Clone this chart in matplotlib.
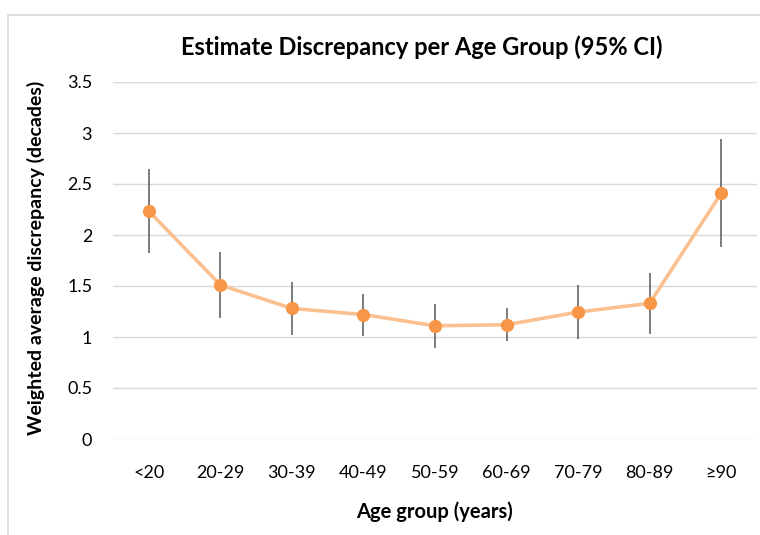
import matplotlib
matplotlib.use("Agg")
import matplotlib.pyplot as plt
from matplotlib.patches import Rectangle

categories = ["<20", "20-29", "30-39", "40-49", "50-59", "60-69", "70-79", "80-89", "≥90"]
means = [2.235, 1.51, 1.28, 1.22, 1.11, 1.12, 1.245, 1.33, 2.41]
upper = [2.65, 1.83, 1.54, 1.42, 1.32, 1.28, 1.51, 1.63, 2.94]
lower = [1.82, 1.19, 1.02, 1.01, 0.89, 0.96, 0.98, 1.03, 1.88]
yticks = [0, 0.5, 1, 1.5, 2, 2.5, 3, 3.5]
ytick_labels = ["0", "0.5", "1", "1.5", "2", "2.5", "3", "3.5"]

plt.rcParams['font.family'] = ['Lato', 'DejaVu Sans']

fig = plt.figure(figsize=(7.6, 5.35), dpi=100)
W, H = 760, 535
ax = fig.add_axes([113 / W, 1 - 439 / H, (757 - 113) / W, (439 - 82) / H])

# chart border
fig.patches.append(Rectangle((8 / W, -0.05), 1.2, 1 - 15 / H + 0.05, transform=fig.transFigure,
                             fill=False, edgecolor="#D9D9D9", linewidth=1.2))

x = list(range(len(categories)))
yerr_low = [m - l for m, l in zip(means, lower)]
yerr_up = [u - m for m, u in zip(means, upper)]

ax.errorbar(x, means, yerr=[yerr_low, yerr_up], fmt="none", ecolor="#595959",
            elinewidth=1.1, capsize=0, zorder=2)
ax.plot(x, means, color="#FAC090", linewidth=2.6, zorder=3)
ax.plot(x, means, linestyle="none", marker="o", markersize=8.5, color="#F79646",
        markeredgecolor="#F79646", zorder=4)

ax.set_xlim(-0.5, len(categories) - 0.5)
ax.set_ylim(0, 3.5)
ax.set_yticks(yticks)
ax.set_yticklabels(ytick_labels)
ax.set_xticks(x)
ax.set_xticklabels(categories)
ax.yaxis.grid(True, color="#D9D9D9", linewidth=1.0)
ax.set_axisbelow(True)
for s in ax.spines.values():
    s.set_visible(False)
ax.tick_params(axis="both", length=0, labelsize=13, colors="#000000")
ax.tick_params(axis="y", pad=15)
ax.tick_params(axis="x", pad=19)

fig.text(422 / W, 1 - 47 / H, "Estimate Discrepancy per Age Group (95% CI)", ha="center", va="center",
         fontsize=17, fontweight="bold")
fig.text(434 / W, 1 - 512 / H, "Age group (years)", ha="center", va="center",
         fontsize=14.5, fontweight="bold")
fig.text(36 / W, 1 - 258 / H, "Weighted average discrepancy (decades)", ha="center", va="center",
         rotation=90, fontsize=14, fontweight="bold")

fig.savefig("out.png", dpi=100, facecolor="white")
